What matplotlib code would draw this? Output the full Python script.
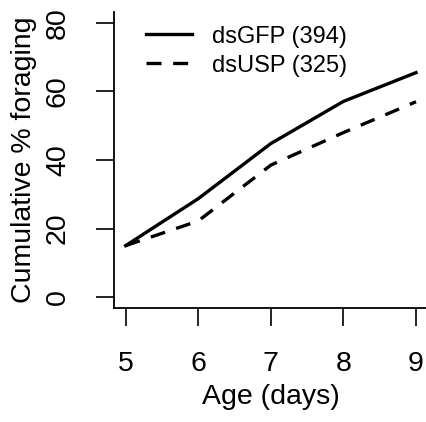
import matplotlib.pyplot as plt

plt.rcParams['font.family'] = ['Liberation Sans', 'DejaVu Sans']

# cumulative percentage foraging by age
age = [5, 6, 7, 8, 9]
ds_gfp = [15, 28.7, 44.8, 57.1, 65.5]
ds_usp = [15, 22.2, 38.5, 48.0, 57.0]
labels = ['dsGFP (394)', 'dsUSP (325)']

fig = plt.figure(figsize=(4.27, 4.22), dpi=100)
ax = fig.add_axes([114 / 427, 114 / 422, 313.6 / 427, 296 / 422])

ax.plot(age, ds_gfp, color='black', lw=2.4, ls='-', label=labels[0])
ax.plot(age, ds_usp, color='black', lw=2.4, ls=(0, (4.5, 3.5)), label=labels[1])

ax.set_xlim(4.84, 9.16)
ax.set_ylim(-3.2, 83.2)
ax.set_xticks(age)
ax.set_yticks([0, 20, 40, 60, 80])

ax.spines['top'].set_visible(False)
ax.spines['right'].set_visible(False)
for s in ['left', 'bottom']:
    ax.spines[s].set_linewidth(1.3)

ax.tick_params(axis='both', length=13, width=1.2, labelsize=20.5, color='black')
ax.tick_params(axis='x', pad=18)
ax.tick_params(axis='y', pad=18)
for t in ax.get_yticklabels():
    t.set_rotation(90)
    t.set_va('center')

ax.set_xlabel('Age (days)', fontsize=20.5, labelpad=5)
ax.set_ylabel('Cumulative % foraging', fontsize=20.5, labelpad=6)

ax.legend(loc='upper left', bbox_to_anchor=(0.05, 1.01), frameon=False,
          fontsize=17, handlelength=1.95, handletextpad=0.85,
          labelspacing=0.3, borderpad=0.2)

fig.savefig('out.png', dpi=100)
